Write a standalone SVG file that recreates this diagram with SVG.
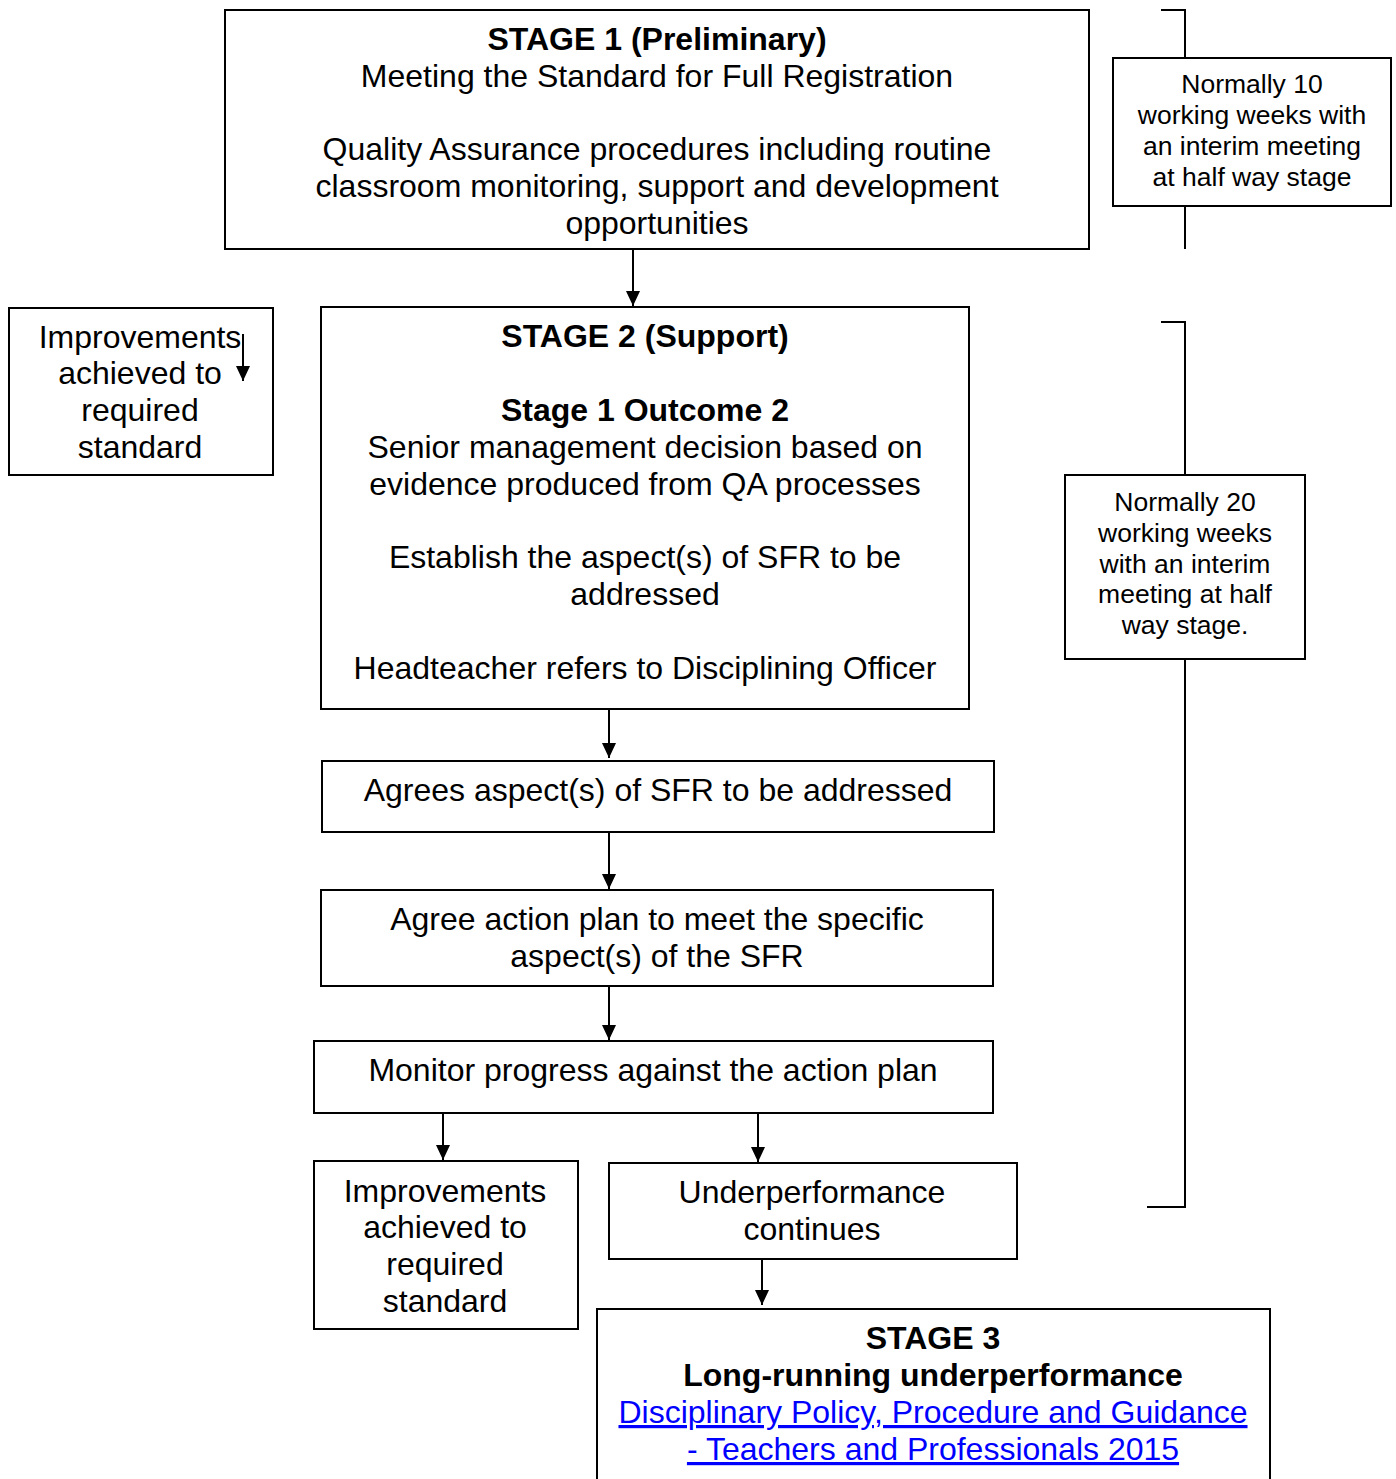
<svg xmlns="http://www.w3.org/2000/svg" width="1396" height="1479" viewBox="0 0 1396 1479">
<defs>
<style>
.box{fill:#fff;stroke:#000;stroke-width:2}
.ln{fill:none;stroke:#000;stroke-width:2}
text{font-family:"Liberation Sans",Arial,sans-serif;fill:#000;text-anchor:middle}
.t{font-size:32px}
.b{font-size:32px;font-weight:bold}
.s{font-size:26.5px}
.lk{font-size:32px;fill:#0000FF;text-decoration:underline}
</style>
<marker id="ad" markerUnits="userSpaceOnUse" markerWidth="16" markerHeight="14" refX="15" refY="7" orient="auto" viewBox="0 0 16 14">
<path d="M0,0 L15,7 L0,14 Z" fill="#000"/>
</marker>
</defs>

<g id="connectors">
<line class="ln" x1="633" y1="249" x2="633" y2="306" marker-end="url(#ad)"/>
<line class="ln" x1="609" y1="709" x2="609" y2="758" marker-end="url(#ad)"/>
<line class="ln" x1="609" y1="832" x2="609" y2="889" marker-end="url(#ad)"/>
<line class="ln" x1="609" y1="986" x2="609" y2="1040" marker-end="url(#ad)"/>
<line class="ln" x1="443" y1="1113" x2="443" y2="1160" marker-end="url(#ad)"/>
<line class="ln" x1="758" y1="1113" x2="758" y2="1162" marker-end="url(#ad)"/>
<line class="ln" x1="762" y1="1259" x2="762" y2="1305" marker-end="url(#ad)"/>
<polyline class="ln" points="1161,10 1185,10 1185,58"/>
<line class="ln" x1="1185" y1="206" x2="1185" y2="249"/>
<polyline class="ln" points="1161,322 1185,322 1185,475"/>
<polyline class="ln" points="1185,659 1185,1207 1147,1207"/>
</g>

<g id="stage1">
<rect class="box" x="225" y="10" width="864" height="239"/>
<text class="b" x="657" y="50">STAGE 1 (Preliminary)</text>
<text class="t" x="657" y="87">Meeting the Standard for Full Registration</text>
<text class="t" x="657" y="160">Quality Assurance procedures including routine</text>
<text class="t" x="657" y="197">classroom monitoring, support and development</text>
<text class="t" x="657" y="234">opportunities</text>
</g>

<g id="note10">
<rect class="box" x="1113" y="58" width="278" height="148"/>
<text class="s" x="1252" y="93">Normally 10</text>
<text class="s" x="1252" y="124">working weeks with</text>
<text class="s" x="1252" y="155">an interim meeting</text>
<text class="s" x="1252" y="186">at half way stage</text>
</g>

<g id="improvements-top">
<rect class="box" x="9" y="308" width="264" height="167"/>
<text class="t" x="140" y="348">Improvements</text>
<text class="t" x="140" y="384">achieved to</text>
<text class="t" x="140" y="421">required</text>
<text class="t" x="140" y="458">standard</text>
<line class="ln" x1="243" y1="334" x2="243" y2="381" marker-end="url(#ad)"/>
</g>

<g id="stage2">
<rect class="box" x="321" y="307" width="648" height="402"/>
<text class="b" x="645" y="347">STAGE 2 (Support)</text>
<text class="b" x="645" y="421">Stage 1 Outcome 2</text>
<text class="t" x="645" y="458">Senior management decision based on</text>
<text class="t" x="645" y="495">evidence produced from QA processes</text>
<text class="t" x="645" y="568">Establish the aspect(s) of SFR to be</text>
<text class="t" x="645" y="605">addressed</text>
<text class="t" x="645" y="679">Headteacher refers to Disciplining Officer</text>
</g>

<g id="note20">
<rect class="box" x="1065" y="475" width="240" height="184"/>
<text class="s" x="1185" y="511">Normally 20</text>
<text class="s" x="1185" y="542">working weeks</text>
<text class="s" x="1185" y="573">with an interim</text>
<text class="s" x="1185" y="603">meeting at half</text>
<text class="s" x="1185" y="634">way stage.</text>
</g>

<g id="agrees">
<rect class="box" x="322" y="761" width="672" height="71"/>
<text class="t" x="658" y="801">Agrees aspect(s) of SFR to be addressed</text>
</g>

<g id="action-plan">
<rect class="box" x="321" y="890" width="672" height="96"/>
<text class="t" x="657" y="930">Agree action plan to meet the specific</text>
<text class="t" x="657" y="967">aspect(s) of the SFR</text>
</g>

<g id="monitor">
<rect class="box" x="314" y="1041" width="679" height="72"/>
<text class="t" x="653" y="1081">Monitor progress against the action plan</text>
</g>

<g id="improvements-bottom">
<rect class="box" x="314" y="1161" width="264" height="168"/>
<text class="t" x="445" y="1202">Improvements</text>
<text class="t" x="445" y="1238">achieved to</text>
<text class="t" x="445" y="1275">required</text>
<text class="t" x="445" y="1312">standard</text>
</g>

<g id="underperformance">
<rect class="box" x="609" y="1163" width="408" height="96"/>
<text class="t" x="812" y="1203">Underperformance</text>
<text class="t" x="812" y="1240">continues</text>
</g>

<g id="stage3">
<rect class="box" x="597" y="1309" width="673" height="200"/>
<text class="b" x="933" y="1349">STAGE 3</text>
<text class="b" x="933" y="1386">Long-running underperformance</text>
<text class="lk" x="933" y="1423">Disciplinary Policy, Procedure and Guidance</text>
<text class="lk" x="933" y="1460">- Teachers and Professionals 2015</text>
</g>
</svg>
